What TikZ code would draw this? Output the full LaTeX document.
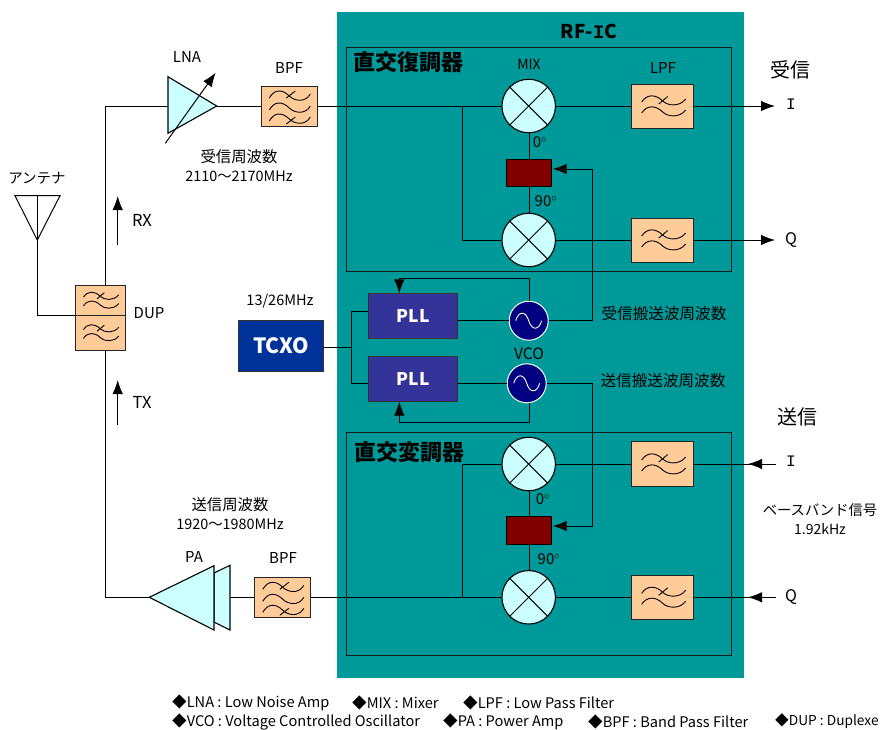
\documentclass[tikz,border=0pt]{standalone}
\usepackage{fontspec}
\setmainfont{Noto Sans CJK JP}
\newfontfamily\monoI{Liberation Mono}
\usetikzlibrary{arrows.meta}
\definecolor{teal1}{HTML}{009999}
\definecolor{peach}{HTML}{FFCC99}
\definecolor{ice}{HTML}{CCFFFF}
\definecolor{maroon1}{HTML}{800000}
\definecolor{navy1}{HTML}{000080}
\definecolor{pllblue}{HTML}{333399}
\definecolor{tcxoblue}{HTML}{003399}
\newcommand{\fs}[1]{\fontsize{#1}{#1}\selectfont}
\tikzset{
  wire/.style={line width=1pt,draw=black},
  filterbox/.style={draw=black!85,line width=1pt,fill=peach,inner sep=0pt,minimum width=#1},
  mixer/.style={circle,draw=black,line width=1.1pt,fill=ice,inner sep=0pt,minimum size=53.5pt},
  phasebox/.style={draw=black,line width=.8pt,fill=maroon1,inner sep=0pt,minimum width=45pt,minimum height=27.5pt},
  pllbox/.style={draw=black!80,line width=1pt,fill=pllblue,inner sep=0pt,minimum width=89.5pt,minimum height=44.5pt,text=white,font=\fs{17.5}\bfseries},
  vco/.style={circle,draw=white,line width=1pt,fill=navy1,inner sep=0pt,minimum size=39pt},
  amp/.style={draw=black,line width=1.1pt,fill=ice},
  lab/.style={inner sep=0pt,yshift=-1pt,font=\fs{15}},
  head/.style={-{Latex[length=14pt,width=10.5pt]}},
  pics/wave/.style={code={
    \draw[line width=.9pt] (-21,-4) .. controls (-16,-12) and (-7,-12) .. (0,-5)
       .. controls (5,0) and (17,1) .. (23,-7);
    \draw[line width=.9pt] (-21,7) .. controls (-16,-1) and (-7,-1) .. (0,6)
       .. controls (5,11) and (17,12) .. (23,4);
    \draw[line width=.9pt] (-4,-2) -- (5,-9.5);
  }},
  pics/wavethree/.style={code={
    \draw[line width=.9pt] (-20,-8) .. controls (-15,-17) and (-7,-17) .. (0,-10)
       .. controls (5,-5) and (16,-3) .. (21,-12);
    \draw[line width=.9pt] (-20,4) .. controls (-15,-5) and (-7,-5) .. (0,2)
       .. controls (5,7) and (16,9) .. (21,0);
    \draw[line width=.9pt] (-20,15) .. controls (-15,6) and (-7,6) .. (0,13)
       .. controls (5,18) and (16,20) .. (21,11);
    \draw[line width=.9pt] (-3,-8) -- (6,-15);
    \draw[line width=.9pt] (-3,18) -- (6,11);
  }},
  pics/sine/.style={code={
    \draw[white,line width=.9pt] (-13,0) .. controls (-10,-10) and (-3,-10) .. (0,0)
       .. controls (3,10) and (10,10) .. (13,0);
  }}
}
\begin{document}
\begin{tikzpicture}[x=1pt,y=-1pt]
\useasboundingbox (0,0) rectangle (880,729);
\fill[white] (0,0) rectangle (880,729);
% RF-IC
\fill[teal1] (337,12) rectangle (744,678);
\coordinate (dl1) at (346,47.5); \coordinate (dr1) at (731,271);
\coordinate (dl2) at (346,432.5); \coordinate (dr2) at (731,655.5);
\draw[line width=.9pt,draw=black!90] (dl1) rectangle (dr1);
\draw[line width=.9pt,draw=black!90] (dl2) rectangle (dr2);
% blocks
\node[mixer] (mix1) at (528.7,106) {};
\node[mixer] (mix2) at (528.7,240) {};
\node[mixer] (mix3) at (528.7,464) {};
\node[mixer] (mix4) at (528.7,597.3) {};
\foreach \m in {mix1,mix2,mix3,mix4} {
  \draw[line width=1pt] (\m.45) -- (\m.225);
  \draw[line width=1pt] (\m.135) -- (\m.315);
}
\node[phasebox] (ph1) at (529.3,173) {};
\node[phasebox] (ph2) at (529.3,530.6) {};
\node[filterbox=62pt,minimum height=44pt] (lpf1) at (662.7,106) {};
\node[filterbox=62pt,minimum height=44pt] (lpf2) at (662.7,240) {};
\node[filterbox=62pt,minimum height=44.5pt] (lpf3) at (662.7,464) {};
\node[filterbox=62pt,minimum height=44.5pt] (lpf4) at (662.7,597.3) {};
\pic at (lpf1) {wave}; \pic at (lpf2) {wave};
\pic at (lpf3) {wave}; \pic at (lpf4) {wave};
\node[filterbox=56pt,minimum height=40pt] (bpf1) at (289.3,106) {};
\node[filterbox=55.7pt,minimum height=40pt] (bpf2) at (282.8,597.3) {};
\pic at (bpf1) {wavethree}; \pic at (bpf2) {wavethree};
\node[filterbox=49.5pt,minimum height=30pt] (dupa) at (100.3,300.3) {};
\node[filterbox=49.5pt,minimum height=35pt] (dupb) at (100.3,332.8) {};
\pic[scale=.8] at (dupa) {wave};
\pic[scale=.8] at (dupb) {wave};
\node[pllbox] (pll1) at (413,316.2) {PLL};
\node[pllbox] (pll2) at (413,378.8) {PLL};
\node[vco] (vco1) at (528.7,320.7) {}; \pic at (vco1) {sine};
\node[vco] (vco2) at (526.7,383.3) {}; \pic at (vco2) {sine};
\node[draw=black!80,line width=1pt,fill=tcxoblue,inner sep=0pt,minimum width=85pt,minimum height=50.5pt,text=white,font=\fs{21}\bfseries] (tcxo) at (281.2,346) {TCXO};
% amplifiers
\coordinate (lnaa) at (168,76.7); \coordinate (lnab) at (168,133.3); \coordinate (lnac) at (216.7,106);
\coordinate (lnain) at (168,106);
\draw[amp] (lnaa) -- (lnac) -- (lnab) -- cycle;
\coordinate (lnas) at (165.3,143.3); \coordinate (lnae) at (215.7,72.7);
\draw[wire,-{Latex[length=14pt,width=10.5pt]}] (lnas) -- (lnae);
\coordinate (pat) at (149.3,597.3); \coordinate (pab1) at (214,565.7); \coordinate (pab2) at (214,630);
\coordinate (pae1) at (230,565.3); \coordinate (pae2) at (230,630);
\coordinate (pae) at (230,597.3);
\draw[amp] (214,573) -- (pae1) -- (pae2) -- (214,622) -- cycle;
\draw[amp] (pat) -- (pab1) -- (pab2) -- cycle;
% antenna
\coordinate (ant1) at (15,195.7); \coordinate (ant2) at (60,195.7); \coordinate (ant3) at (37.3,240); \coordinate (antm) at (37.3,195.7);
\draw[wire] (ant1) -- (ant2) -- (ant3) -- cycle;
\draw[wire] (antm) -- (ant3);
% connectors
\draw[wire] (ant3) |- (dupa.south west);
\draw[wire] (dupa.north -| 105,0) |- (lnain);
\draw[wire] (lnac) -- (bpf1.west);
\draw[wire] (bpf1.east) -- (mix1.west);
\coordinate (tapr) at (462.3,106);
\draw[wire] (tapr) |- (mix2.west);
\draw[wire] (dupb.south -| 105,0) |- (pat);
\draw[wire] (pae) -- (bpf2.west);
\draw[wire] (bpf2.east) -- (mix4.west);
\coordinate (tapt) at (462.3,597.3);
\draw[wire] (tapt) |- (mix3.west);
\draw[wire] (mix1.east) -- (lpf1.west);
\draw[wire] (mix2.east) -- (lpf2.west);
\draw[wire] (mix3.east) -- (lpf3.west);
\draw[wire] (mix4.east) -- (lpf4.west);
\coordinate (oi) at (775,106); \coordinate (oq) at (775,240);
\coordinate (ii) at (775.5,464); \coordinate (iq) at (775.5,597.3);
\draw[wire,head] (lpf1.east) -- (oi);
\draw[wire,head] (lpf2.east) -- (oq);
\draw[wire,head] (ii) -- (lpf3.east -| 748,0);
\draw[wire] (lpf3.east) -- (ii);
\draw[wire,head] (iq) -- (lpf4.east -| 748,0);
\draw[wire] (lpf4.east) -- (iq);
\draw[wire] (mix1.south -| ph1) -- (ph1.north);
\draw[wire] (ph1.south) -- (mix2.north -| ph1);
\draw[wire] (mix3.south -| ph2) -- (ph2.north);
\draw[wire] (ph2.south) -- (mix4.north -| ph2);
\coordinate (ctl1) at (592,169); \coordinate (ctl2) at (592,526);
\coordinate (ph1i) at (552.7,169); \coordinate (ph2i) at (552.7,526);
\draw[wire,head] (vco1.east) -| (ctl1) -- (ph1i);
\draw[wire,head] (vco2.east) -| (ctl2) -- (ph2i);
\draw[wire] (pll1.east |- vco1) -- (vco1.west);
\draw[wire] (pll2.east |- vco2) -- (vco2.west);
\coordinate (fb1a) at (529.3,278.3); \coordinate (fb1b) at (399.3,278.3);
\coordinate (fb2a) at (529.3,422.3); \coordinate (fb2b) at (399.3,422.3);
\draw[wire,head] (vco1.north -| fb1a) -- (fb1a) -- (fb1b) -- (pll1.north -| fb1b);
\draw[wire,head] (vco2.south -| fb2a) -- (fb2a) -- (fb2b) -- (pll2.south -| fb2b);
\coordinate (clkj) at (351.3,347.7); \coordinate (clkt) at (351.3,311.7); \coordinate (clkb) at (351.3,383.3);
\draw[wire] (tcxo.east |- clkj) -- (clkj);
\draw[wire] (pll1.west |- clkt) -- (clkt) -- (clkb) -- (pll2.west |- clkb);
% RX / TX arrows
\coordinate (rxs) at (117.7,245); \coordinate (rxe) at (117.7,196);
\coordinate (txs) at (117.7,425); \coordinate (txe) at (117.7,380);
\draw[wire,head] (rxs) -- (rxe);
\draw[wire,head] (txs) -- (txe);
% labels
\node[inner sep=0pt,font=\fs{19}\bfseries] (t1) at (589,31) {RF-{\monoI I}C};
\node[inner sep=0pt,font=\fs{22}\bfseries] (t2) at (408,62) {直交復調器};
\node[inner sep=0pt,font=\fs{22}\bfseries] (t3) at (409,452) {直交変調器};
\node[lab,font=\fs{14}] (t4) at (529,63) {MIX};
\node[lab] (t5) at (663,66.5) {LPF};
\node[lab] (t6) at (289,66.5) {BPF};
\node[lab] (t7) at (283,557) {BPF};
\node[lab] (t8) at (187,56) {LNA};
\node[lab] (t9) at (194,556) {PA};
\node[lab,font=\fs{14.5}] (t10) at (37,177) {アンテナ};
\node[lab,font=\fs{15.4}] (t11) at (239,156) {受信周波数};
\node[lab,font=\fs{14.4}] (t12) at (239,175) {2110〜2170MHz};
\node[lab,font=\fs{15.4}] (t13) at (230,504) {送信周波数};
\node[lab,font=\fs{14.4}] (t14) at (230,523.5) {1920〜1980MHz};
\node[lab,font=\fs{16.5}] (t15) at (142,219) {RX};
\node[lab,font=\fs{16.5}] (t16) at (142,401) {TX};
\node[lab] (t17) at (149,312.5) {DUP};
\node[lab,font=\fs{14.5}] (t18) at (280,300) {13/26MHz};
\node[lab,font=\fs{15.6}] (t19) at (529,353) {VCO};
\node[lab,font=\fs{15.6}] (t20) at (664,313) {受信搬送波周波数};
\node[lab,font=\fs{15.6}] (t21) at (663,380) {送信搬送波周波数};
\node[lab] (t22) at (540,141) {0$^{\circ}$};
\node[lab] (t23) at (546,200) {90$^{\circ}$};
\node[lab] (t24) at (543,498) {0$^{\circ}$};
\node[lab] (t25) at (549,558) {90$^{\circ}$};
\node[lab,font=\fs{20}] (t26) at (790,69) {受信};
\node[lab,font=\fs{20}] (t27) at (797,416) {送信};
\node[lab,font=\fs{16}\monoI] (t28) at (791,103) {I};
\node[lab,font=\fs{16}] (t29) at (791,239) {Q};
\node[lab,font=\fs{16}\monoI] (t30) at (791,460) {I};
\node[lab,font=\fs{16}] (t31) at (791,596) {Q};
\node[lab,font=\fs{14.3}] (t32) at (820,509) {ベースバンド信号};
\node[lab,font=\fs{14}] (t33) at (820,528) {1.92kHz};
% legend
\tikzset{leg/.style={inner sep=0pt,anchor=west,font=\fs{14.6}}}
\node[leg] (l1) at (172,702.5) {◆LNA : Low Noise Amp};
\node[leg] (l2) at (352,702.5) {◆MIX : Mixer};
\node[leg] (l3) at (463,702.5) {◆LPF : Low Pass Filter};
\node[leg] (l4) at (172,721.5) {◆VCO : Voltage Controlled Oscillator};
\node[leg] (l5) at (443,721.5) {◆PA : Power Amp};
\node[leg] (l6) at (588,721.5) {◆BPF : Band Pass Filter};
\node[leg,font=\fs{13.7}] (l7) at (775,721.5) {◆DUP : Duplexe};
\end{tikzpicture}
\end{document}
